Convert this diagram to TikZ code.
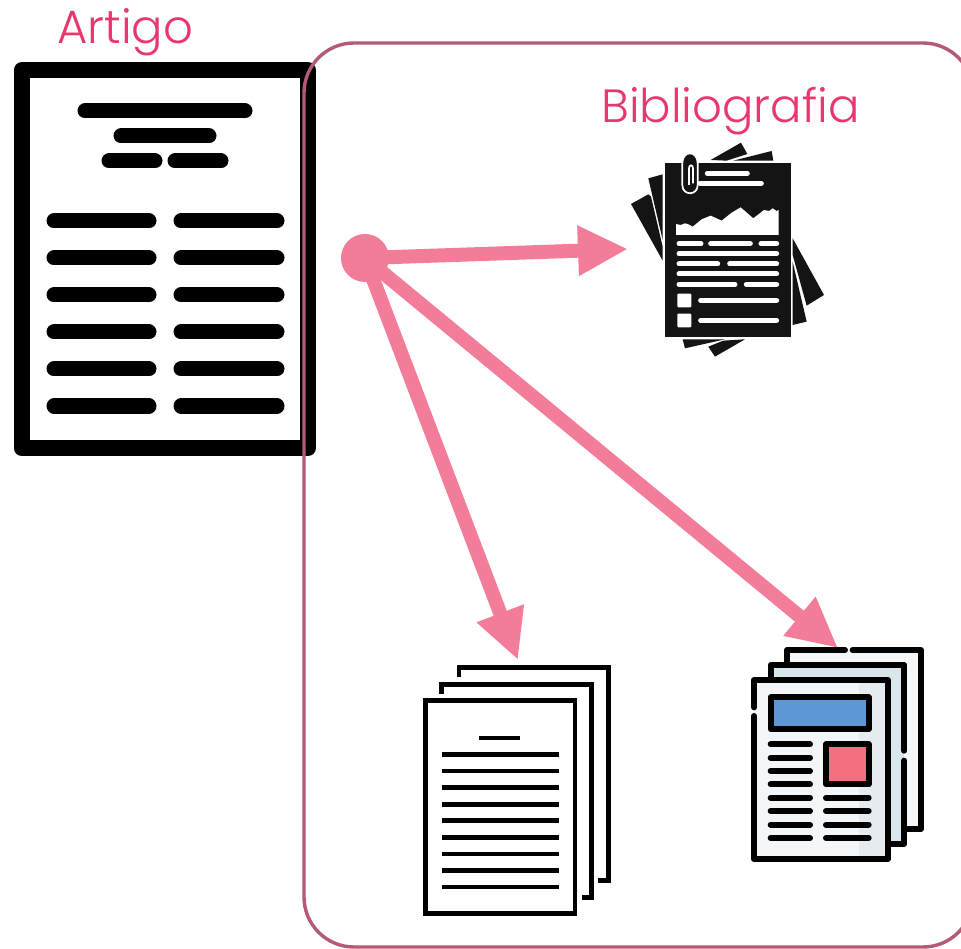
\documentclass[tikz,border=0pt]{standalone}
\usepackage{fontspec}
\setmainfont{Poppins Light}
\usetikzlibrary{arrows.meta}
\definecolor{labelpink}{HTML}{E9376D}
\definecolor{arrowpink}{HTML}{F37C99}
\definecolor{framerose}{HTML}{B35A75}
\definecolor{inkblack}{HTML}{141414}
\definecolor{sheetback}{RGB}{243,247,249}
\definecolor{sheetmid}{RGB}{217,230,236}
\definecolor{sheetfront}{RGB}{243,246,249}
\definecolor{sheetshade}{RGB}{230,235,240}
\definecolor{panelblue}{RGB}{94,151,214}
\definecolor{panelred}{RGB}{242,112,127}
\tikzset{
  every picture/.style={x=1pt,y=-1pt},
  lbl/.style={anchor=base west,inner sep=0pt,text=labelpink,font=\fontsize{46.6}{47}\selectfont},
  artbar/.style={line width=15pt,line cap=round,black},
  hubdot/.style={circle,fill=arrowpink,minimum size=48pt,inner sep=0pt},
  link/.style={line width=14pt,draw=arrowpink,-{Triangle[length=50pt,width=47pt,fill=arrowpink]}},
  zoomed/.style={x=0.3333pt,y=-0.3333pt},
  wline/.style={white,line width=5pt,line cap=round},
  clipline/.style={white,line width=1.7pt},
  nstroke/.style={black,line width=6pt,line cap=round,line join=round},
  sstroke/.style={black,line width=4.7pt,line join=miter},
  sline/.style={black,line width=4.7pt}
}
\begin{document}
\begin{tikzpicture}
\useasboundingbox (0,0) rectangle (961,949);
\fill[white] (0,0) rectangle (961,949);
% article
\draw[black,line width=16pt,line join=round,fill=white] (21.5,70.5) rectangle (308,448);
\foreach \a/\b/\y in {85/245/111,121/209/136,109/155/161,175/221/161}
  \draw[artbar] (\a,\y) -- (\b,\y);
\foreach \y in {221,258,295,332,369,406}{
  \draw[artbar] (54,\y) -- (149,\y);
  \draw[artbar] (181,\y) -- (277,\y);
}
% frame
\draw[framerose,line width=3.4pt,rounded corners=50pt] (304,43) rectangle (973,947);
% labels
\node[lbl] (artigo) at (57,44) {Artigo};
\node[lbl] (biblio) at (601,123) {Bibliografia};
% bibliography icon
\begin{scope}[shift={(620,130)},zoomed]
  \fill[inkblack] (33,222)--(85,193)--(93,200)--(128,350)--(128,392)--cycle;
  \fill[inkblack] (85,145)--(128,133)--(128,330)--cycle;
  \fill[inkblack] (272,90)--(363,38)--(382,72)--(320,92)--cycle;
  \fill[inkblack] (340,92)--(455,63)--(460,92)--cycle;
  \fill[inkblack] (518,325)--(612,495)--(560,527)--(518,375)--cycle;
  \fill[inkblack] (518,395)--(560,575)--(518,585)--cycle;
  \fill[inkblack] (188,628)--(315,628)--(195,655)--cycle;
  \fill[inkblack] (265,650)--(310,632)--(375,628)--(285,680)--cycle;
  \fill[inkblack] (135,98) rectangle (512,622);
  \fill[white] (168,282)--(182,285)--(195,280)--(205,283)--(218,290)--(245,268)--(272,257)--(305,272)--(335,248)--(362,232)--(400,265)--(432,240)--(447,243)--(458,235)--(470,243)--(476,240)--(476,315)--(168,315)--cycle;
  \foreach \a/\b/\y in {262/382/130,240/424/160,177/243/341,272/391/341,423/470/341,177/470/371,177/293/402,329/470/402,177/470/432,177/345/463,379/470/463,242/470/511,242/470/571}
    \draw[wline] (\a,\y) -- (\b,\y);
  \fill[white,rounded corners=1pt] (172,491) rectangle (214,532);
  \fill[white,rounded corners=1pt] (172,551) rectangle (214,592);
  \draw[clipline,fill=inkblack] (187,165) -- (187,100) .. controls (187,60) and (233,60) .. (233,100) -- (233,165) .. controls (233,198) and (187,198) .. (187,165) -- cycle;
  \draw[clipline] (207,165) -- (207,115) .. controls (207,103) and (219,103) .. (219,115) -- (219,160);
\end{scope}
% stacked document icon
\begin{scope}[shift={(410,650)},zoomed]
  \draw[sstroke] (147,82) -- (147,53) -- (595,53) -- (595,692) -- (565,692);
  \draw[sstroke] (95,132) -- (95,103) -- (545,103) -- (545,742) -- (515,742);
  \draw[sstroke,fill=white] (47,152) rectangle (495,791);
  \draw[sline] (208,264) -- (331,264);
  \foreach \y in {314,363,413,463,512,562,612,661,711}
    \draw[sline] (95,\y) -- (447,\y);
\end{scope}
% newspaper icon
\begin{scope}[shift={(740,630)},zoomed]
  \fill[sheetback] (141,60) rectangle (542,597);
  \draw[nstroke] (315,60) -- (141,60) -- (141,105);
  \draw[nstroke] (338,60) -- (542,60) -- (542,597) -- (493,597);
  \fill[sheetmid] (92,105) rectangle (493,642);
  \draw[nstroke] (92,150) -- (92,105) -- (493,105) -- (493,362);
  \draw[nstroke] (493,392) -- (493,642) -- (443,642);
  \fill[sheetfront] (42,150) rectangle (443,687);
  \fill[sheetshade] (357,150) rectangle (443,687);
  \draw[nstroke] (42,232) -- (42,150) -- (443,150) -- (443,687) -- (42,687) -- (42,258);
  \draw[nstroke,fill=panelblue] (92,202) rectangle (386,297);
  \draw[nstroke,fill=panelred] (258,343) rectangle (386,463);
  \foreach \y in {343,383,423,463,503,543,584,624}
    \draw[nstroke] (92,\y) -- (210,\y);
  \foreach \y in {503,543,584,624}
    \draw[nstroke] (258,\y) -- (386,\y);
\end{scope}
% hub and links
\node[hubdot] (hub) at (365,258) {};
\coordinate (tipbib) at (628,249);
\coordinate (tipstack) at (518,660);
\coordinate (tipnews) at (838,648);
\draw[link] (hub.center) -- (tipbib);
\draw[link] (hub.center) -- (tipstack);
\draw[link] (hub.center) -- (tipnews);
\end{tikzpicture}
\end{document}
